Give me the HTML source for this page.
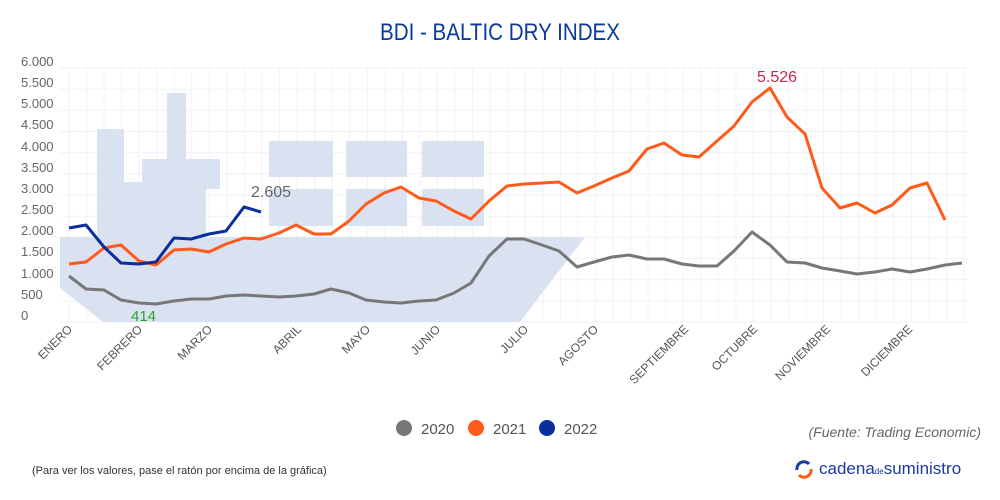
<!DOCTYPE html>
<html><head><meta charset="utf-8"><style>body{margin:0;background:#fff}svg{display:block;font-family:"Liberation Sans",sans-serif}</style></head><body>
<svg width="1000" height="500" viewBox="0 0 1000 500">
<text x="500" y="40" text-anchor="middle" font-size="24" fill="#0a3a9c" textLength="240" lengthAdjust="spacingAndGlyphs">BDI - BALTIC DRY INDEX</text>
<g stroke="#f0f2f9" stroke-width="1">
<path d="M69 68V322M86.5 68V322M104.1 68V322M121.6 68V322M139.2 68V322M156.7 68V322M174.3 68V322M191.8 68V322M209.4 68V322M226.9 68V322M244.5 68V322M262 68V322M279.6 68V322M297.1 68V322M314.7 68V322M332.2 68V322M349.8 68V322M367.3 68V322M384.9 68V322M402.4 68V322M420 68V322M437.5 68V322M455.1 68V322M472.6 68V322M490.2 68V322M507.7 68V322M525.3 68V322M542.8 68V322M560.4 68V322M577.9 68V322M595.5 68V322M613 68V322M630.6 68V322M648.1 68V322M665.7 68V322M683.2 68V322M700.8 68V322M718.3 68V322M735.9 68V322M753.4 68V322M771 68V322M788.5 68V322M806.1 68V322M823.6 68V322M841.2 68V322M858.7 68V322M876.3 68V322M893.8 68V322M911.4 68V322M928.9 68V322M946.5 68V322M964 68V322"/>
<path d="M60 68H968M60 89.2H968M60 110.3H968M60 131.5H968M60 152.7H968M60 173.8H968M60 195H968M60 216.2H968M60 237.3H968M60 258.5H968M60 279.7H968M60 300.8H968M60 322H968"/>
</g>
<g fill="#d8e0f1" fill-opacity="0.95">
<polygon points="60,237 585,237 520,322 103,322 60,288"/>
<rect x="97" y="129" width="27" height="108"/>
<rect x="124" y="182" width="18" height="55"/>
<rect x="142" y="159" width="25" height="78"/>
<rect x="167" y="93" width="19" height="144"/>
<rect x="186" y="159" width="34" height="30"/>
<rect x="186" y="189" width="20" height="48"/>
<rect x="269" y="141" width="64" height="36"/><rect x="269" y="189" width="64" height="37"/>
<rect x="346" y="141" width="61" height="36"/><rect x="346" y="189" width="61" height="37"/>
<rect x="422" y="141" width="62" height="36"/><rect x="422" y="189" width="62" height="37"/>
</g>
<g font-size="13" fill="#666">
<text x="21" y="66">6.000</text><text x="21" y="87">5.500</text><text x="21" y="108">5.000</text><text x="21" y="129">4.500</text><text x="21" y="151">4.000</text><text x="21" y="172">3.500</text><text x="21" y="193">3.000</text><text x="21" y="214">2.500</text><text x="21" y="235">2.000</text><text x="21" y="256">1.500</text><text x="21" y="278">1.000</text><text x="21" y="299">500</text><text x="21" y="320">0</text>
</g>
<g font-size="12" fill="#555" text-anchor="end">
<text transform="translate(73,330) rotate(-45)">ENERO</text>
<text transform="translate(143,330) rotate(-45)">FEBRERO</text>
<text transform="translate(213,330) rotate(-45)">MARZO</text>
<text transform="translate(302,330) rotate(-45)">ABRIL</text>
<text transform="translate(371,330) rotate(-45)">MAYO</text>
<text transform="translate(441,330) rotate(-45)">JUNIO</text>
<text transform="translate(529,330) rotate(-45)">JULIO</text>
<text transform="translate(599,330) rotate(-45)">AGOSTO</text>
<text transform="translate(689,330) rotate(-45)">SEPTIEMBRE</text>
<text transform="translate(758,330) rotate(-45)">OCTUBRE</text>
<text transform="translate(831,330) rotate(-45)">NOVIEMBRE</text>
<text transform="translate(913,330) rotate(-45)">DICIEMBRE</text>
</g>
<g fill="none" stroke-width="3" stroke-linejoin="round">
<polyline stroke="#777" points="69,276 86,289 104,290 121,300 139,303 156,304 174,301 191,299 209,299 226,296 244,295 261,296 279,297 296,296 314,294 331,289 349,293 366,300 384,302 401,303 419,301 436,300 454,293 471,283 489,256 507,239 524,239 542,245 559,251 577,267 594,262 612,257 629,255 647,259 664,259 682,264 699,266 717,266 734,251 752,232 770,245 787,262 805,263 822,268 840,271 857,274 875,272 892,269 910,272 927,269 945,265 962,263"/>
<polyline stroke="#ff5a1a" points="69,264 86,262 104,248 121,245 139,261 156,265 174,250 191,249 209,252 226,244 244,238 261,239 279,233 296,225 314,234 331,234 349,221 366,204 384,193 401,187 419,198 436,201 454,211 471,219 489,201 507,186 524,184 542,183 559,182 577,193 594,186 612,178 629,171 647,149 664,143 682,155 699,157 717,141 734,126 752,102 770,88 787,117 805,134 822,188 840,208 857,203 875,213 892,205 910,188 927,183 945,220"/>
<polyline stroke="#0a2f9c" points="69,228 86,225 104,247 121,263 139,264 156,262 174,238 191,239 209,234 226,231 244,207 261,212"/>
</g>
<text x="251" y="197" font-size="16" fill="#666">2.605</text>
<text x="131" y="321" font-size="15" fill="#2aa52a">414</text>
<text x="757" y="82" font-size="16" fill="#d0254a">5.526</text>
<g font-size="15" fill="#555">
<circle cx="404" cy="428" r="8" fill="#777"/><text x="421" y="434">2020</text>
<circle cx="476" cy="428" r="8" fill="#ff5a1a"/><text x="493" y="434">2021</text>
<circle cx="547" cy="428" r="8" fill="#0a2f9c"/><text x="564" y="434">2022</text>
</g>
<text x="981" y="437" text-anchor="end" font-size="14" font-style="italic" fill="#666">(Fuente: Trading Economic)</text>
<text x="32" y="474" font-size="11" fill="#333">(Para ver los valores, pase el ratón por encima de la gráfica)</text>
<path d="M797,470 a7,7 0 0 1 12,-6" stroke="#1a3a9c" stroke-width="3" fill="none"/>
<path d="M811,469 a7,7 0 0 1 -12,6" stroke="#ff5a1a" stroke-width="3" fill="none"/>
<text x="819" y="474" font-size="17" fill="#1a3a9c">cadena<tspan font-size="8">de</tspan>suministro</text>
</svg>
</body></html>
